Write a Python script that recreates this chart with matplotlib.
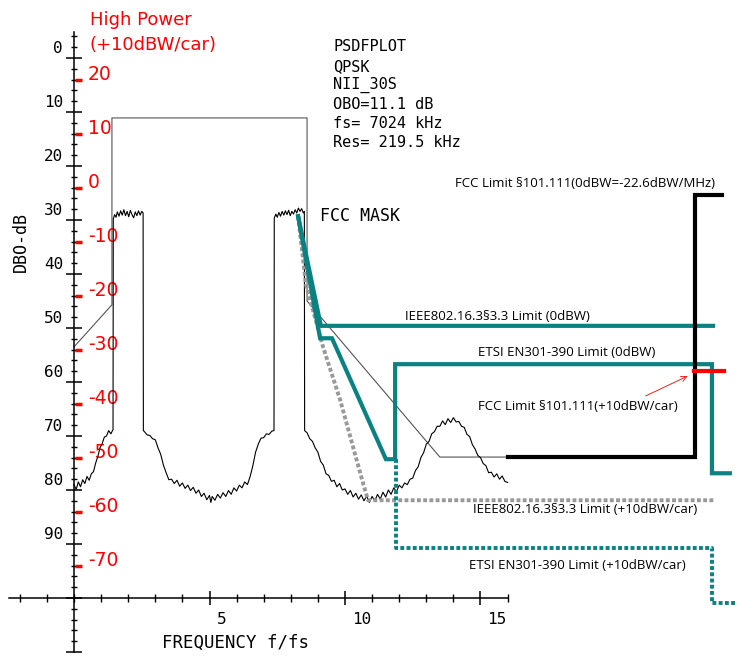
import matplotlib
matplotlib.use("Agg")
import matplotlib.pyplot as plt
from matplotlib import font_manager

def pick_font(cands):
    names = {f.name for f in font_manager.fontManager.ttflist}
    for c in cands:
        if c in names:
            return c
    return "DejaVu Sans"

SANS = pick_font(["Liberation Sans Narrow", "Open Sans", "DejaVu Sans"])
MONO = "DejaVu Sans Mono"
RED_FONT = "DejaVu Sans"

# ---------------- data ----------------
spec_x = [0, 0.08, 0.16, 0.24, 0.32, 0.4, 0.48, 0.56, 0.64, 0.72, 0.8, 0.88, 0.96, 1.04, 1.12, 1.2, 1.28, 1.36, 1.44,
          1.45, 1.5, 1.55, 1.6, 1.66, 1.72, 1.78, 1.84, 1.9, 1.96, 2.02, 2.08, 2.14, 2.2, 2.26, 2.32, 2.38, 2.44, 2.5, 2.55,
          2.56, 2.6, 2.7, 2.8, 2.9, 3.0, 3.1, 3.2, 3.3, 3.4, 3.5, 3.6, 3.7, 3.8, 3.9, 4.0, 4.1, 4.2, 4.3, 4.4, 4.5, 4.6,
          4.7, 4.8, 4.9, 5.0, 5.05, 5.1, 5.2, 5.3, 5.4, 5.5, 5.6, 5.7, 5.8, 5.9, 6.0, 6.1, 6.2, 6.3, 6.4, 6.5, 6.6, 6.7,
          6.8, 6.9, 7.0, 7.1, 7.2, 7.3, 7.38,
          7.39, 7.45, 7.5, 7.56, 7.62, 7.68, 7.74, 7.8, 7.86, 7.92, 7.98, 8.04, 8.1, 8.16, 8.22, 8.28, 8.34, 8.4, 8.46, 8.5,
          8.51, 8.6, 8.7, 8.8, 8.9, 9.0, 9.1, 9.2, 9.3, 9.4, 9.5, 9.6, 9.7, 9.8, 9.9, 10.0, 10.1, 10.2, 10.3, 10.4, 10.5,
          10.6, 10.7, 10.8, 10.9, 11.0, 11.1, 11.2, 11.3, 11.4, 11.5, 11.6, 11.7, 11.8, 11.9, 12.0, 12.1, 12.2, 12.3,
          12.4, 12.5, 12.6, 12.7, 12.8, 12.9, 13.0, 13.1, 13.2, 13.3, 13.4, 13.5, 13.6, 13.7, 13.8, 13.9, 14.0, 14.1,
          14.2, 14.3, 14.4, 14.5, 14.6, 14.7, 14.8, 14.9, 15.0, 15.1, 15.2, 15.3, 15.4, 15.5, 15.6, 15.7, 15.8, 15.9, 16.0]
spec_dbo = [79.0, 79.9, 78.5, 79.4, 78.1, 78.8, 77.5, 78.2, 77.0, 76.6, 75.0, 73.8, 72.2, 71.4, 70.2, 70.0, 69.0, 69.6, 68.8,
            29.8, 29.0, 29.5, 28.5, 29.3, 28.3, 29.1, 28.1, 29.2, 28.4, 29.4, 28.2, 29.0, 29.6, 28.5, 29.2, 28.3, 29.1, 28.4, 28.7,
            69.0, 69.2, 69.8, 69.9, 70.5, 70.7, 72.2, 73.4, 75.4, 76.8, 78.1, 78.0, 78.8, 78.2, 79.3, 78.7, 79.7, 79.1, 80.1,
            79.5, 80.6, 80.0, 81.2, 80.6, 81.8, 81.0, 82.3, 81.2, 81.9, 80.8, 81.5, 80.5, 81.2, 80.1, 80.8, 79.6, 80.2, 79.1,
            79.6, 78.5, 79.0, 77.5, 75.5, 73.0, 71.5, 70.4, 70.3, 69.6, 69.7, 69.1, 69.0,
            29.6, 28.9, 29.5, 28.6, 29.3, 28.4, 29.1, 28.3, 29.0, 28.2, 29.2, 28.4, 28.9, 28.1, 28.7, 27.8, 28.4, 27.9, 28.7, 28.4,
            69.0, 69.4, 70.5, 71.0, 72.2, 73.0, 74.7, 75.4, 77.0, 77.3, 78.4, 78.2, 79.4, 78.8, 80.0, 79.8, 80.8, 80.1, 81.3,
            80.6, 81.7, 80.9, 82.0, 81.1, 82.3, 81.2, 82.0, 80.8, 81.7, 80.4, 81.3, 80.0, 80.8, 79.6, 80.3, 79.1, 79.6, 78.7,
            79.0, 78.0, 77.8, 76.4, 75.7, 74.0, 73.1, 71.5, 71.0, 69.6, 69.2, 68.2, 68.2, 67.2, 67.9, 66.8, 67.5, 66.6, 67.4,
            67.3, 68.2, 68.4, 69.7, 70.1, 71.6, 72.4, 73.6, 74.0, 75.1, 75.5, 76.8, 76.7, 77.6, 77.0, 78.0, 77.4, 78.4, 78.6]

mask_x = [0, 1.4, 1.4, 8.6, 8.6, 13.5, 16.0]
mask_dbo = [53.5, 45.7, 11.1, 11.1, 45.0, 73.9, 73.9]

fcc_x = [16.0, 22.9, 22.9, 23.9]
fcc_dbo = [73.9, 73.9, 25.4, 25.4]

ieee_x = [8.27, 9.11, 23.58]
ieee_dbo = [29.3, 49.6, 49.6]

etsi_x = [8.27, 9.08, 9.52, 11.51, 11.85, 11.85, 23.54, 23.54, 24.2]
etsi_dbo = [29.3, 51.9, 51.9, 74.3, 74.3, 56.7, 56.7, 76.9, 76.9]

ieee_hp_x = [8.27, 8.56, 9.19, 9.82, 10.63, 10.85, 23.65]
ieee_hp_dbo = [29.3, 42.0, 53.5, 63.3, 78.1, 81.9, 81.9]

etsi_hp_x = [11.88, 11.88, 23.54, 23.54, 24.46]
etsi_hp_dbo = [74.3, 90.7, 90.7, 100.9, 100.9]

fcc_hp_x = [22.88, 24.0]
fcc_hp_dbo = [58.0, 58.0]

y_tick_labels = [0, 10, 20, 30, 40, 50, 60, 70, 80, 90]
x_tick_labels = [5, 10, 15]
red_labels = [20, 10, 0, -10, -20, -30, -40, -50, -60, -70]
red_offset = 24  # DBO = red_offset - high-power level

info_lines = ["PSDFPLOT", "QPSK", "NII_30S", "OBO=11.1 dB", "fs= 7024 kHz", "Res= 219.5 kHz"]

# ---------------- figure ----------------
fig = plt.figure(figsize=(7.38, 6.56), dpi=100)
ax = fig.add_axes([0, 0, 1, 1])
ax.set_xlim(-74 / 27.1, 664 / 27.1)
ax.set_ylim(598 / 5.4, -58 / 5.4)

for s in ["top", "right"]:
    ax.spines[s].set_visible(False)
ax.spines["left"].set_position(("data", 0))
ax.spines["bottom"].set_position(("data", 100))
ax.spines["left"].set_bounds(-4.8, 110)
ax.spines["bottom"].set_bounds(-2.4, 16)
for s in ["left", "bottom"]:
    ax.spines[s].set_linewidth(1.1)
ax.set_yticks(range(0, 111, 10))
ax.set_yticks(range(-4, 111, 2), minor=True)
ax.set_xticks([5, 10, 15])
ax.set_xticks(range(-2, 17, 1), minor=True)
ax.tick_params(axis="y", which="major", direction="inout", length=11, width=1.1, labelleft=False)
ax.tick_params(axis="y", which="minor", direction="inout", length=5, width=1.0)
ax.tick_params(axis="x", which="major", direction="inout", length=9.5, width=1.1, labelbottom=False)
ax.tick_params(axis="x", which="minor", direction="inout", length=5.5, width=1.0)

# tick labels
for v in y_tick_labels:
    ax.annotate(str(v), (0, v), xytext=(-11, 5), textcoords="offset pixels",
                ha="right", va="baseline", fontsize=11.5, family=MONO)
for v in x_tick_labels:
    ax.annotate(str(v), (v, 100), xytext=(7, -22), textcoords="offset pixels",
                ha="left", va="center", fontsize=11.5, family=MONO)

# red high-power scale
red_pos = [red_offset - r for r in red_labels]
ax.hlines(red_pos, 0.04, 0.3, color="red", lw=2.5, zorder=5)
for r, p in zip(red_labels, red_pos):
    ax.annotate(str(r), (0, p), xytext=(88 - 74, 0), textcoords="offset pixels",
                ha="left", va="baseline", fontsize=13.5, color="red", family=RED_FONT)
ax.text(0.59, -7.0, "High Power", color="red", fontsize=13, family=RED_FONT, ha="left", va="center")
ax.text(0.59, -2.4, "(+10dBW/car)", color="red", fontsize=13, family=RED_FONT, ha="left", va="center")

# axis titles
ax.text(-1.96, 34.1, "DBO-dB", rotation=90, ha="center", va="center", fontsize=12, family=MONO)
ax.text((162 - 74) / 27.1, (643 - 58) / 5.4, "FREQUENCY f/fs", ha="left", va="center", fontsize=12.5, family=MONO)

# info block
for i, line in enumerate(info_lines):
    ax.text(9.56, -2.04 + i * 3.55, line, ha="left", va="center", fontsize=11, family=MONO)
ax.text((320 - 74) / 27.1, (216 - 58) / 5.4, "FCC MASK", ha="left", va="center", fontsize=12, family=MONO)

# lines
TEAL = "#0a8282"
ax.plot(spec_x, spec_dbo, color="black", lw=0.8, zorder=3)
ax.plot(mask_x, mask_dbo, color="#555555", lw=0.8, zorder=2)
ax.plot(ieee_hp_x, ieee_hp_dbo, color="#999999", lw=2.8, linestyle=(0, (1, 0.6)), zorder=4)
ax.plot(etsi_hp_x, etsi_hp_dbo, color=TEAL, lw=2.8, linestyle=(0, (1, 0.6)), zorder=4)
ax.plot(ieee_x, ieee_dbo, color=TEAL, lw=3, zorder=5, solid_joinstyle="miter")
ax.plot(etsi_x, etsi_dbo, color=TEAL, lw=3, zorder=5, solid_joinstyle="miter")
ax.plot(fcc_x, fcc_dbo, color="black", lw=3, zorder=6, solid_joinstyle="miter")
ax.plot(fcc_hp_x, fcc_hp_dbo, color="red", lw=3, zorder=7)
ax.annotate("", xy=(22.73, 58.7), xytext=(21.0, 62.8),
            arrowprops=dict(arrowstyle="->", color="red", lw=0.6))

# annotations
ann = [
    (14.06, 23.3, "FCC Limit §101.111(0dBW=-22.6dBW/MHz)"),
    (12.21, 47.8, "IEEE802.16.3§3.3 Limit (0dBW)"),
    (14.91, 54.6, "ETSI EN301-390 Limit (0dBW)"),
    (14.91, 64.6, "FCC Limit §101.111(+10dBW/car)"),
    (14.72, 83.7, "IEEE802.16.3§3.3 Limit (+10dBW/car)"),
    (14.58, 93.9, "ETSI EN301-390 Limit (+10dBW/car)"),
]
for x, y, s in ann:
    ax.text(x, y, s, ha="left", va="center", fontsize=9.5, family=SANS)

fig.savefig("out.png", dpi=100)
